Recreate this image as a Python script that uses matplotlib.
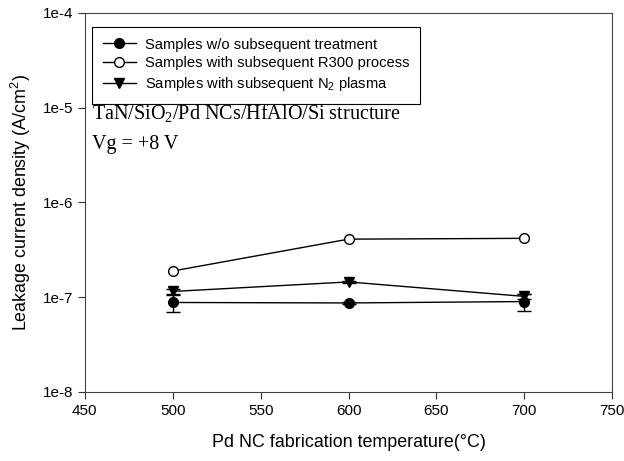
import matplotlib
matplotlib.use("Agg")
import matplotlib.pyplot as plt
from matplotlib.lines import Line2D
from matplotlib.ticker import FixedLocator, FixedFormatter

plt.rcParams['font.family'] = ['Liberation Sans', 'DejaVu Sans']

temps = [500, 600, 700]
# leakage current density (A/cm^2)
no_treat = [8.8e-8, 8.7e-8, 9.0e-8]
no_treat_err = [1.85e-8, 0.3e-8, 1.9e-8]
r300 = [1.89e-7, 4.1e-7, 4.18e-7]
n2_plasma = [1.15e-7, 1.45e-7, 1.02e-7]
n2_plasma_err = [0.07e-7, 0.05e-7, 0.06e-7]

labels = ['Samples w/o subsequent treatment',
          'Samples with subsequent R300 process',
          'Samples with subsequent N$\\mathregular{_2}$ plasma']

fig = plt.figure(figsize=(6.24, 4.61), dpi=100)
ax = fig.add_axes([0.136, 0.1497, 0.845, 0.8223])

ax.errorbar(temps, no_treat, yerr=no_treat_err, color='black', marker='o', ms=7,
            mfc='black', lw=1, capsize=5, elinewidth=1)
ax.plot(temps, r300, color='black', marker='o', ms=7, mfc='white', lw=1)
ax.errorbar(temps, n2_plasma, yerr=n2_plasma_err, color='black', marker='v', ms=7,
            mfc='black', lw=1, capsize=5, elinewidth=1)

ax.set_yscale('log')
ax.set_ylim(1e-8, 1e-4)
ax.set_xlim(450, 750)
ax.set_xticks([450, 500, 550, 600, 650, 700, 750])
ax.yaxis.set_major_locator(FixedLocator([1e-8, 1e-7, 1e-6, 1e-5, 1e-4]))
ax.yaxis.set_major_formatter(FixedFormatter(['1e-8', '1e-7', '1e-6', '1e-5', '1e-4']))
ax.yaxis.set_minor_locator(FixedLocator([]))
ax.tick_params(direction='out', length=5, labelsize=11, colors='#333333', labelcolor='black')
for s in ax.spines.values():
    s.set_color('#444444')

ax.set_xlabel('Pd NC fabrication temperature(\u00b0C)', fontsize=12.9, labelpad=12)
ax.set_ylabel('Leakage current density (A/cm$\\mathregular{^2}$)', fontsize=12.9, labelpad=7)

handles = [Line2D([], [], color='black', marker='o', ms=7, mfc='black', lw=1),
           Line2D([], [], color='black', marker='o', ms=7, mfc='white', lw=1),
           Line2D([], [], color='black', marker='v', ms=7, mfc='black', lw=1)]
leg = ax.legend(handles, labels, loc='upper left', bbox_to_anchor=(0.013, 0.964), fontsize=10.6,
                frameon=True, fancybox=False, edgecolor='black', framealpha=1,
                borderpad=0.75, borderaxespad=0, handlelength=2.25, handletextpad=0.6,
                labelspacing=0.33)
leg.get_frame().set_linewidth(0.8)

ax.text(0.013, 0.736, 'TaN/SiO$\\mathregular{_2}$/Pd NCs/HfAlO/Si structure', transform=ax.transAxes,
        fontsize=14.5, family='Liberation Serif', va='center')
ax.text(0.013, 0.652, 'Vg = +8 V', transform=ax.transAxes,
        fontsize=14.5, family='Liberation Serif', va='center')

fig.savefig('out.png', dpi=100)
